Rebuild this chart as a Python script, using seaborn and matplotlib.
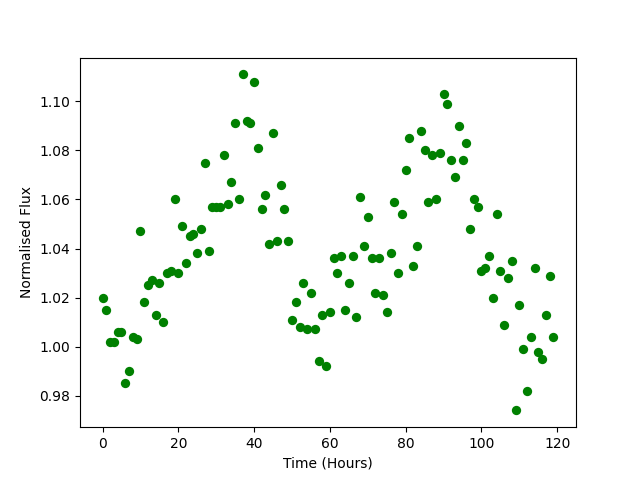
import matplotlib
matplotlib.use("Agg")
import matplotlib.pyplot as plt
import seaborn as sns
import pandas as pd

time_hours = list(range(120))
flux = [
    1.020, 1.015, 1.002, 1.002, 1.006, 1.006, 0.985, 0.990, 1.004, 1.003,
    1.047, 1.018, 1.025, 1.027, 1.013, 1.026, 1.010, 1.030, 1.031, 1.060,
    1.030, 1.049, 1.034, 1.045, 1.046, 1.038, 1.048, 1.075, 1.039, 1.057,
    1.057, 1.057, 1.078, 1.058, 1.067, 1.091, 1.060, 1.111, 1.092, 1.091,
    1.108, 1.081, 1.056, 1.062, 1.042, 1.087, 1.043, 1.066, 1.056, 1.043,
    1.011, 1.018, 1.008, 1.026, 1.007, 1.022, 1.007, 0.994, 1.013, 0.992,
    1.014, 1.036, 1.030, 1.037, 1.015, 1.026, 1.037, 1.012, 1.061, 1.041,
    1.053, 1.036, 1.022, 1.036, 1.021, 1.014, 1.038, 1.059, 1.030, 1.054,
    1.072, 1.085, 1.033, 1.041, 1.088, 1.080, 1.059, 1.078, 1.060, 1.079,
    1.103, 1.099, 1.076, 1.069, 1.090, 1.076, 1.083, 1.048, 1.060, 1.057,
    1.031, 1.032, 1.037, 1.020, 1.054, 1.031, 1.009, 1.028, 1.035, 0.974,
    1.017, 0.999, 0.982, 1.004, 1.032, 0.998, 0.995, 1.013, 1.029, 1.004,
]

df = pd.DataFrame({"Time (Hours)": time_hours, "Normalised Flux": flux})

fig, ax = plt.subplots(figsize=(6.4, 4.8), dpi=100)
sns.scatterplot(data=df, x="Time (Hours)", y="Normalised Flux", ax=ax,
                color="green", s=45, linewidth=0, alpha=1.0)
ax.set_xlabel("Time (Hours)")
ax.set_ylabel("Normalised Flux")
fig.savefig("out.png", dpi=100)
